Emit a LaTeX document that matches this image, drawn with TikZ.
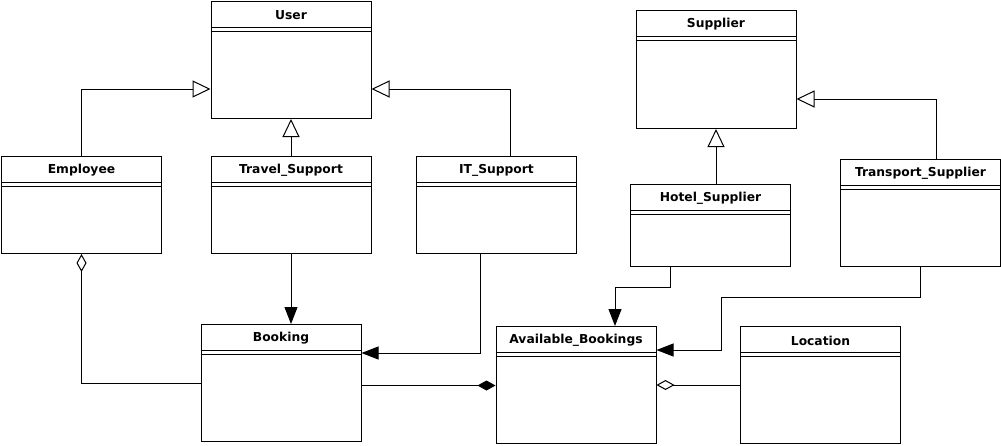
\documentclass[tikz,border=0pt]{standalone}
\usepackage{fontspec}
\setmainfont{DejaVu Sans}
\usetikzlibrary{arrows.meta,calc}
\tikzset{
  cls/.style={draw, line width=1pt, anchor=north west, minimum width=160pt, inner sep=0pt},
  ttl/.style={font=\fontsize{12.3}{14}\selectfont\bfseries},
  conn/.style={line width=1pt},
  gen/.style={conn, -{Triangle[open,length=18pt,width=17pt]}},
  assoc/.style={conn, -{Triangle[length=17pt,width=13pt]}},
  aggr/.style={conn, {Diamond[open,length=18pt,width=10pt]}-},
  comp/.style={conn, -{Diamond[length=18pt,width=10pt]}},
}
\newcommand{\umlclass}[5]{%
  \node[cls, minimum height=#4pt] (#1) at (#2,#3) {};
  \draw[conn] ([yshift=-26.5pt]#1.north west) -- ([yshift=-26.5pt]#1.north east);
  \draw[conn] ([yshift=-30pt]#1.north west) -- ([yshift=-30pt]#1.north east);
  \node[ttl] (#1-t) at ([yshift=-14.5pt]#1.north) {#5};
}
\begin{document}
\begin{tikzpicture}[x=1pt,y=-1pt]
\useasboundingbox (0,0) rectangle (1001,445);
\umlclass{User}{210.5}{1}{117}{User}
\umlclass{Employee}{1}{156}{97}{Employee}
\umlclass{Travel}{210.5}{156}{97}{Travel\_Support}
\umlclass{IT}{416}{156}{97}{IT\_Support}
\umlclass{Booking}{200.5}{324}{117}{Booking}
\umlclass{AB}{495.5}{326}{117}{Available\_Bookings}
\umlclass{Location}{740}{326}{117}{Location}
\umlclass{Supplier}{635.5}{10}{118}{Supplier}
\umlclass{Hotel}{630}{184}{82}{Hotel\_Supplier}
\umlclass{Transport}{840}{159}{107}{Transport\_Supplier}

% generalizations
\draw[gen] (Employee.north) |- ([yshift=-88pt]User.north west);
\draw[gen] (Travel.north) -- (Travel.north |- User.south);
\draw[gen] ([xshift=14pt]IT.north) |- ([yshift=-88pt]User.north east);
\draw[gen] (Supplier.south |- Hotel.north) -- (Supplier.south);
\draw[gen] ([xshift=15.5pt]Transport.north) |- ([yshift=-89pt]Supplier.north east);

% associations
\draw[assoc] (Travel.south) -- (Travel.south |- Booking.north);
\draw[assoc] ([xshift=-16pt]IT.south) |- ([yshift=-29pt]Booking.north east);
\draw[assoc] ([xshift=-40pt]Hotel.south) -- ++(0,20) -| ([xshift=119.5pt]AB.north west);
\coordinate (abA) at ([yshift=-24pt]AB.north east);
\draw[assoc] (Transport.south) -- ++(0,30) -| ([xshift=65pt]abA) -- (abA);

% aggregation / composition
\draw[aggr] (Employee.south) |- ([yshift=-59pt]Booking.north west);
\coordinate (abL) at ([yshift=-59.5pt]AB.north west);
\draw[comp] (Booking.east |- abL) -- (abL);
\coordinate (abR) at ([yshift=-59pt]AB.north east);
\draw[aggr] (abR) -- (Location.west |- abR);
\end{tikzpicture}
\end{document}
